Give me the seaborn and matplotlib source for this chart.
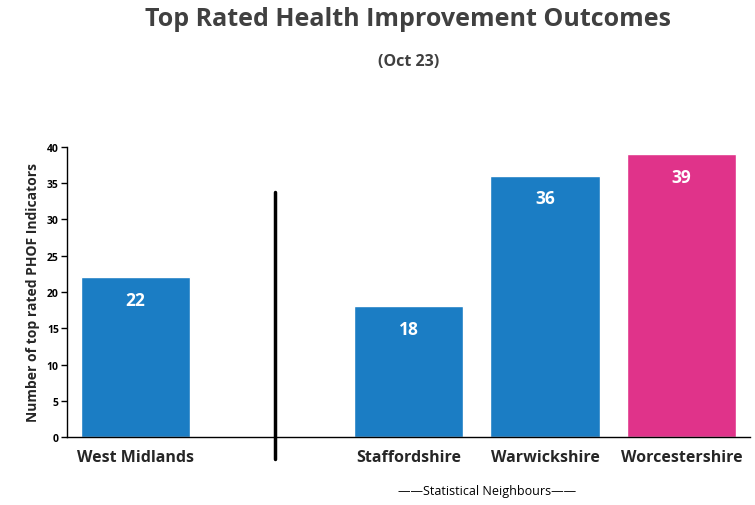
import pandas as pd
import matplotlib.pyplot as plt
import seaborn as sns

# Chart data
areas = ['West Midlands', '', 'Staffordshire', 'Warwickshire', 'Worcestershire']
counts = [22, None, 18, 36, 39]
groups = ['region', 'gap', 'neighbour', 'neighbour', 'highlight']
y_ticks = [0, 5, 10, 15, 20, 25, 30, 35, 40]

df = pd.DataFrame({'area': areas, 'count': counts, 'group': groups})

sns.set_style('white')
plt.rcParams['font.family'] = ['Open Sans', 'DejaVu Sans']

fig = plt.figure(figsize=(7.55, 5.06), dpi=100)
ax = fig.add_axes([0.089, 0.134, 0.904, 0.574])

palette = {'region': '#1b7dc4', 'gap': '#ffffff', 'neighbour': '#1b7dc4', 'highlight': '#e0338a'}
sns.barplot(data=df, x='area', y='count', hue='group', palette=palette,
            dodge=False, width=0.8, legend=False, ax=ax, saturation=1)

# white value labels near the top of each bar
for i, v in enumerate(counts):
    if v is not None:
        ax.text(i, v - 3.1, str(v), ha='center', va='center', color='white',
                fontsize=12.5, fontweight='bold')

# divider between region and statistical neighbours
ax.plot([1.02, 1.02], [-3.0, 33.8], color='black', lw=2.5, clip_on=False)

ax.set_xlim(-0.5, 4.5)
ax.set_ylim(0, 40)
ax.set_yticks(y_ticks)
ax.set_yticklabels([str(t) for t in y_ticks], fontsize=7.5, fontweight='bold')
ax.set_xticks(range(len(areas)))
ax.set_xticklabels(areas, fontsize=11.5, fontweight='bold')
ax.tick_params(axis='y', left=True, length=4, width=1, pad=2, colors='black')
ax.tick_params(axis='x', bottom=False, pad=5)
ax.set_xlabel('')
ax.set_ylabel('Number of top rated PHOF Indicators', fontsize=10, fontweight='bold', labelpad=5)

sns.despine(ax=ax)
for s in ['left', 'bottom']:
    ax.spines[s].set_color('black')
    ax.spines[s].set_linewidth(1)

fig.text(0.541, 0.962, 'Top Rated Health Improvement Outcomes', ha='center', va='center',
         fontsize=18, fontweight='bold', color='#404040')
fig.text(0.541, 0.878, '(Oct 23)', ha='center', va='center',
         fontsize=11.5, fontweight='bold', color='#404040')
fig.text(0.645, 0.028, '\u2014\u2014Statistical Neighbours\u2014\u2014', ha='center', va='center',
         fontsize=9, color='black')

fig.savefig('out.png', dpi=100)
